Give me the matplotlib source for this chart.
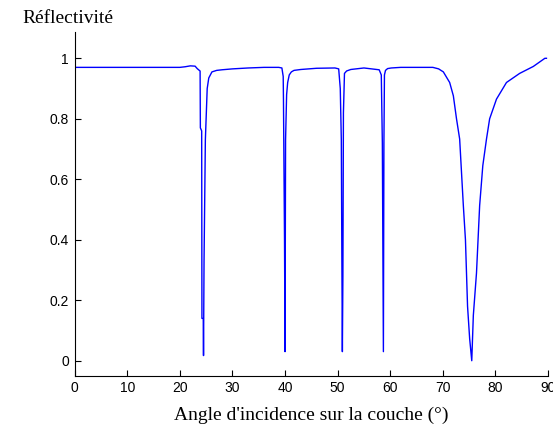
import numpy as np
import matplotlib
matplotlib.use("Agg")
import matplotlib.pyplot as plt

# courbe de réflectivité (une ligne par creux)
angle = [0, 10, 20, 21.0, 22.0, 22.9, 23.3, 23.7, 23.85, 23.9, 24.15, 24.2, 24.45, 24.5,
         24.6, 24.85, 25.2, 25.5, 26.1, 27.0, 28, 30, 33, 36, 38.8, 39.4,
         39.65, 39.7, 39.9, 40.0, 40.1, 40.3, 40.5, 40.8, 41.2, 41.7, 43, 46, 49.5,
         50.2, 50.5, 50.7, 50.8, 50.9, 51.0, 51.1, 51.3, 51.7, 52.5, 55,
         57.9, 58.3, 58.5, 58.7, 58.8, 58.9, 59.1, 59.5, 60.2, 62, 65, 68.1,
         69.2, 70.1, 71.3, 72.0, 72.6, 73.2, 73.9, 74.3, 74.7, 75.1, 75.5,
         75.8, 76.4, 77.0, 77.6, 78.3, 78.9, 80.2, 82.1, 84.6, 87.2, 89.4, 89.7]
reflect = [0.970, 0.970, 0.970, 0.972, 0.975, 0.974, 0.966, 0.960, 0.958, 0.77, 0.76, 0.14, 0.14, 0.017,
           0.33, 0.73, 0.90, 0.935, 0.955, 0.960, 0.962, 0.965, 0.968, 0.970, 0.970, 0.968,
           0.94, 0.865, 0.40, 0.03, 0.73, 0.88, 0.92, 0.945, 0.955, 0.960, 0.963, 0.967, 0.968,
           0.965, 0.90, 0.73, 0.35, 0.03, 0.28, 0.82, 0.95, 0.958, 0.963, 0.968,
           0.962, 0.945, 0.72, 0.03, 0.72, 0.945, 0.960, 0.966, 0.968, 0.970, 0.970, 0.970,
           0.965, 0.955, 0.92, 0.876, 0.80, 0.733, 0.513, 0.40, 0.18, 0.073, 0.0,
           0.15, 0.29, 0.513, 0.645, 0.733, 0.80, 0.865, 0.92, 0.95, 0.973, 1.0, 1.0]

fig = plt.figure(figsize=(5.53, 4.34), dpi=100)
eje = fig.add_axes([0.135, 0.134, 0.856, 0.793])
eje.plot(angle, reflect, color='#0000ff', linewidth=1.0)

eje.set_xlim(0, 90)
eje.set_ylim(-0.05, 1.088)
eje.set_xticks(np.arange(0, 91, 10))
eje.set_yticks([0, 0.2, 0.4, 0.6, 0.8, 1])
eje.set_yticklabels(['0', '0.2', '0.4', '0.6', '0.8', '1'])
eje.spines['top'].set_visible(False)
eje.spines['right'].set_visible(False)
eje.tick_params(direction='in', length=4, width=0.8, labelsize=10, pad=4)
for lab in eje.get_xticklabels() + eje.get_yticklabels():
    lab.set_family('Liberation Sans')

eje.set_xlabel("Angle d'incidence sur la couche (°)", family='Liberation Serif',
               fontsize=14, labelpad=8)
fig.text(0.04, 0.948, "Réflectivité", family='Liberation Serif', fontsize=14,
         ha='left', va='baseline')

fig.savefig('out.png', dpi=100)
